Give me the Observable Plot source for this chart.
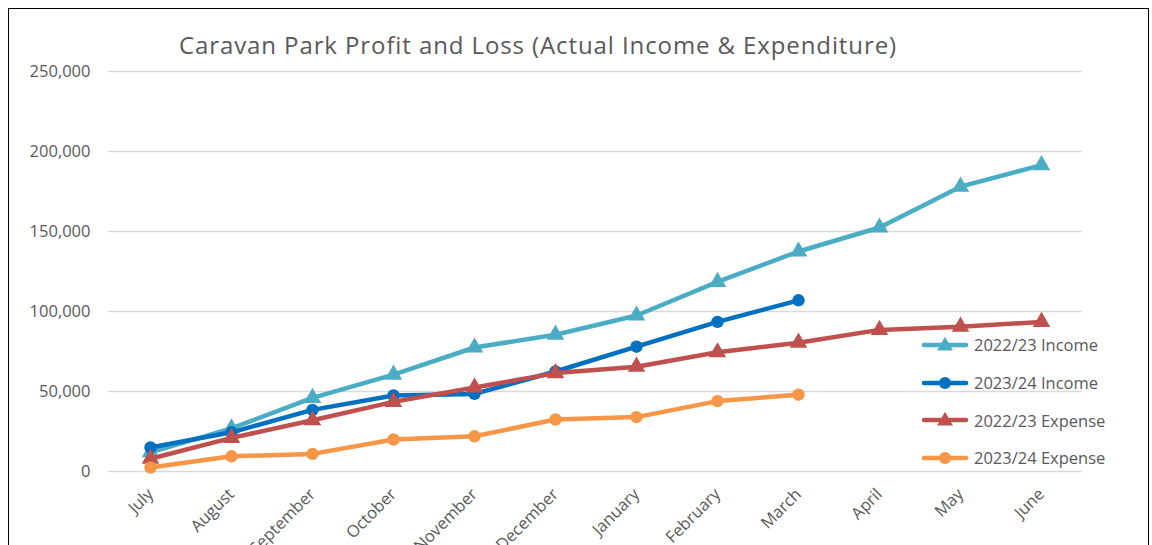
<!DOCTYPE html>
<html>
<head>
<meta charset="utf-8">
<script src="https://cdn.jsdelivr.net/npm/d3@7"></script>
<script src="https://cdn.jsdelivr.net/npm/@observablehq/plot@0.6"></script>
<style>
  html, body { margin: 0; padding: 0; background: #fff; }
  #wrap { position: relative; width: 1152px; height: 545px; overflow: hidden; font-family: "Open Sans", Lato, sans-serif; }
  #frame { position: absolute; left: 8px; top: 8px; width: 1141px; height: 700px; border: 1.5px solid #000; box-sizing: border-box; pointer-events: none; }
  #title { position: absolute; left: 0; width: 1076px; top: 28px; text-align: center; font-size: 24px; letter-spacing: 0.9px; color: #595959; white-space: nowrap; }
  #chart { position: absolute; left: 0; top: 0; }
  #legend { position: absolute; left: 921px; top: 326px; }
  .item { display: flex; align-items: center; height: 37.7px; font-size: 16.5px; color: #595959; white-space: nowrap; }
  .item svg { margin-right: 5px; }
</style>
</head>
<body>
<div id="wrap">
  <div id="chart"></div>
  <div id="title">Caravan Park Profit and Loss (Actual Income &amp; Expenditure)</div>
  <div id="legend"></div>
  <div id="frame"></div>
</div>
<script>
const months = ["July", "August", "September", "October", "November", "December", "January", "February", "March", "April", "May", "June"];
const seriesNames = ["2022/23 Income", "2023/24 Income", "2022/23 Expense", "2023/24 Expense"];
const income2223 = [12000, 27000, 46000, 60500, 77500, 85500, 97500, 118500, 137500, 152500, 178000, 191500];
const income2324 = [15000, 24500, 38500, 47500, 48500, 62500, 78000, 93500, 107000];
const expense2223 = [8000, 21000, 32000, 43500, 52500, 61500, 65500, 74500, 80500, 88500, 90500, 93500];
const expense2324 = [2500, 9500, 11000, 20000, 22000, 32500, 34000, 44000, 48000];
const yTicks = [0, 50000, 100000, 150000, 200000, 250000];

const seriesValues = [income2223, income2324, expense2223, expense2324];
const colors = ["#4BACC6", "#0070C0", "#C0504D", "#F79646"];
const symbols = ["triangle", "circle", "triangle", "circle"];

const marks = [
  Plot.gridY(yTicks, {stroke: "#d9d9d9", strokeOpacity: 1, strokeWidth: 1.5}),
  Plot.axisY(yTicks, {tickSize: 0, tickPadding: 18, tickFormat: d3.format(","), fontSize: 16.5, fill: "#595959", label: null}),
  Plot.axisX({tickSize: 0, tickRotate: -45, tickPadding: 20, fontSize: 16.5, fill: "#595959", label: null})
];
seriesValues.forEach((vals, i) => {
  const rows = vals.map((v, j) => ({month: months[j], value: v}));
  marks.push(Plot.line(rows, {x: "month", y: "value", stroke: colors[i], strokeWidth: 4.5, strokeLinejoin: "round", strokeLinecap: "round"}));
  marks.push(Plot.dot(rows, {x: "month", y: "value", fill: colors[i], symbol: symbols[i], r: symbols[i] === "circle" ? 6.2 : 6.5, stroke: "none"}));
});

const chart = Plot.plot({
  width: 1152,
  height: 545,
  marginLeft: 108,
  marginRight: 70,
  marginTop: 71,
  marginBottom: 74,
  style: {fontFamily: "'Open Sans', Lato, sans-serif", background: "transparent", overflow: "visible"},
  x: {type: "point", domain: months, padding: 0.5},
  y: {domain: [0, 250000]},
  marks
});
document.getElementById("chart").appendChild(chart);

const legend = document.getElementById("legend");
seriesNames.forEach((name, i) => {
  const item = document.createElement("div");
  item.className = "item";
  const marker = symbols[i] === "circle"
    ? `<circle cx="24" cy="8" r="6" fill="${colors[i]}"/>`
    : `<path d="${d3.symbol(d3.symbolTriangle, 110)()}" transform="translate(24,9)" fill="${colors[i]}"/>`;
  item.innerHTML = `<svg width="48" height="16"><line x1="3" x2="45" y1="8" y2="8" stroke="${colors[i]}" stroke-width="4.5" stroke-linecap="round"/>${marker}</svg><span>${name}</span>`;
  legend.appendChild(item);
});
</script>
</body>
</html>
